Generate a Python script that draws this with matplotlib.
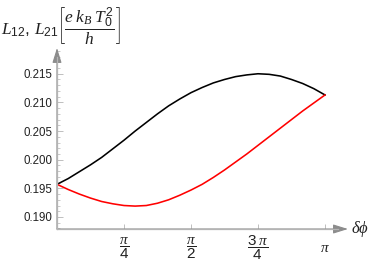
import numpy as np
import matplotlib
matplotlib.use("Agg")
import matplotlib.pyplot as plt
from matplotlib.ticker import MultipleLocator

plt.rcParams['font.family'] = ['Liberation Sans', 'DejaVu Sans']
plt.rcParams['mathtext.fontset'] = 'custom'
plt.rcParams['mathtext.rm'] = 'Liberation Sans'
plt.rcParams['mathtext.it'] = 'Liberation Serif:italic'
plt.rcParams['mathtext.bf'] = 'Liberation Sans:bold'

# values, step pi/24
dphi = np.pi * np.arange(25) / 24
L12 = [0.1957, 0.1967, 0.1979, 0.1991, 0.2004, 0.2019, 0.2034, 0.2050,
       0.2065, 0.2080, 0.2094, 0.2106, 0.2117, 0.2126, 0.2134, 0.2140,
       0.2145, 0.2148, 0.2150, 0.2149, 0.2146, 0.2140, 0.2133, 0.2124,
       0.2113]
L21 = [0.1957, 0.1948, 0.1940, 0.1933, 0.1927, 0.1923, 0.1920, 0.1919,
       0.1920, 0.1924, 0.1930, 0.1938, 0.1947, 0.1957, 0.1969, 0.1982,
       0.1996, 0.2010, 0.2025, 0.2040, 0.2055, 0.2070, 0.2085, 0.2099,
       0.2113]

xticks = [np.pi / 4, np.pi / 2, 3 * np.pi / 4, np.pi]
xlabels = [r'$\dfrac{\pi}{4}$', r'$\dfrac{\pi}{2}$', r'$\dfrac{3\;\pi}{4}$', r'$\pi$']
yticks = [0.190, 0.195, 0.200, 0.205, 0.210, 0.215]

axis_grey = '#b4b4b4'
text_col = '#222222'

fig = plt.figure(figsize=(3.74, 2.67), dpi=100)
ax = fig.add_axes([0.1524, 0.1423, 0.778, 0.678])

ax.plot(dphi, L12, color='black', lw=1.15)
ax.plot(dphi, L21, color='red', lw=1.15)

ax.set_xlim(0, 3.411)
ax.set_ylim(0.1879, 0.2195)

for s in ax.spines.values():
    s.set_visible(False)

# axes with arrow heads
ax.annotate('', xy=(1.0, 0), xytext=(0, 0), xycoords='axes fraction',
            arrowprops=dict(arrowstyle='-|>,head_length=0.9,head_width=0.28',
                            color='#8c8c8c', lw=0.8, shrinkA=0, shrinkB=0))
ax.annotate('', xy=(0, 1.0), xytext=(0, 0), xycoords='axes fraction',
            arrowprops=dict(arrowstyle='-|>,head_length=0.9,head_width=0.28',
                            color='#8c8c8c', lw=0.8, shrinkA=0, shrinkB=0))
# lighter axis lines over the arrow shafts
ax.plot([0, 0.965], [0, 0], transform=ax.transAxes, color=axis_grey, lw=0.9,
        clip_on=False, zorder=3)
ax.plot([0, 0], [0, 0.95], transform=ax.transAxes, color=axis_grey, lw=0.9,
        clip_on=False, zorder=3)

ax.set_xticks(xticks)
ax.set_xticklabels(xlabels)
ax.set_yticks(yticks)
ax.set_yticklabels(['%.3f' % v for v in yticks])
ax.yaxis.set_minor_locator(MultipleLocator(0.001))

ax.tick_params(axis='both', which='major', direction='in', color=axis_grey,
               labelcolor=text_col, width=0.6)
ax.tick_params(axis='y', which='major', length=4, pad=3, labelsize=8.3)
ax.tick_params(axis='y', which='minor', direction='in', length=2, width=0.5,
               color=axis_grey)
ax.tick_params(axis='x', which='major', length=3.5, pad=13.5, labelsize=11)
for lab in ax.get_xticklabels():
    lab.set_verticalalignment('center')

fig.text(0.004, 0.906,
         r'$L_{12},\,L_{21}\left[\dfrac{e\;k_B\;T_0^2}{h}\right]$',
         ha='left', va='center', fontsize=12.5, color=text_col)
fig.text(0.938, 0.141, r'$\delta\phi$', ha='left', va='center',
         fontsize=12, color=text_col)

fig.savefig('out.png', dpi=100)
